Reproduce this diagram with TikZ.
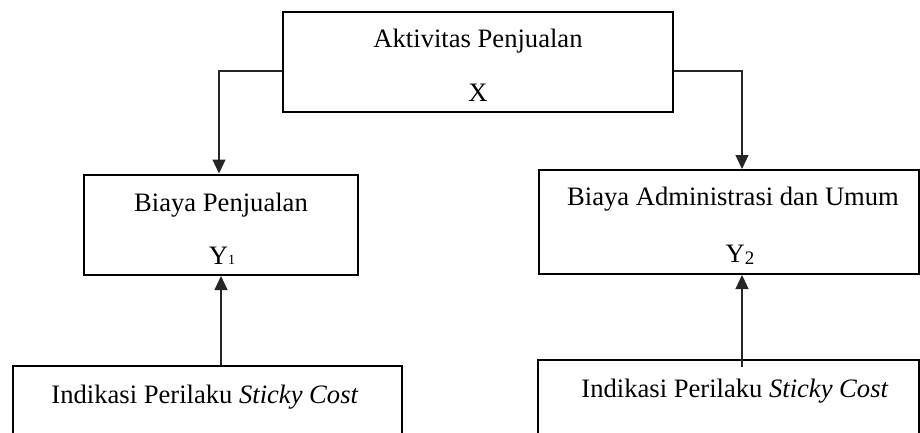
\documentclass[tikz,border=0pt]{standalone}
\usepackage{fontspec}
\setmainfont{Liberation Serif}
\usetikzlibrary{arrows.meta}
\begin{document}
\begin{tikzpicture}[x=1pt,y=-1pt,
  box/.style={draw=black,line width=2pt,rectangle,inner sep=0pt},
  lbl/.style={anchor=base,inner sep=0pt,font=\fontsize{26.6}{30}\selectfont},
  conn/.style={draw=black!85,line width=1.1pt,-{Triangle[length=14pt,width=13pt]}}]
\useasboundingbox (0,0) rectangle (920,433);
\clip (0,0) rectangle (920,433);
% boxes
\node[box,minimum width=390pt,minimum height=100pt] (top) at (478,62) {};
\node[box,minimum width=274pt,minimum height=100.5pt] (lm) at (221,224.75) {};
\node[box,minimum width=380pt,minimum height=104pt] (rm) at (729,222) {};
\node[box,minimum width=389pt,minimum height=120pt] (bl) at (207.5,426) {};
\node[box,minimum width=381pt,minimum height=120pt] (br) at (728.5,420) {};
% labels
\node[lbl] (t1) at (478,48) {Aktivitas Penjualan};
\node[lbl] (t2) at (478,102) {X};
\node[lbl] (l1) at (221,211) {Biaya Penjualan};
\node[lbl] (l2) at (222,264) {Y{\fontsize{14}{16}\selectfont 1}};
\node[lbl] (r1) at (733,205.5) {Biaya Administrasi dan Umum};
\node[lbl] (r2) at (740,262) {Y{\fontsize{19}{20}\selectfont\raisebox{-2pt}{2}}};
\node[lbl] (b1) at (205,403) {Indikasi Perilaku \textit{Sticky Cost}};
\node[lbl] (b2) at (735,397) {Indikasi Perilaku \textit{Sticky Cost}};
% connectors
\coordinate (ra) at ([xshift=13pt]rm.north);
\coordinate (rs) at ([xshift=13pt]rm.south);
\coordinate (rb) at (rs |- br.north);
\coordinate (lb) at (lm.south |- bl.north);
\draw[conn] ([yshift=-9pt]top.west) -| ([xshift=-2pt]lm.north);
\draw[conn] ([yshift=-9pt]top.east) -| (ra);
\draw[conn] (lb) -- (lm.south);
\draw[conn] ([yshift=-8pt]rb) -- (rs);
\end{tikzpicture}
\end{document}
